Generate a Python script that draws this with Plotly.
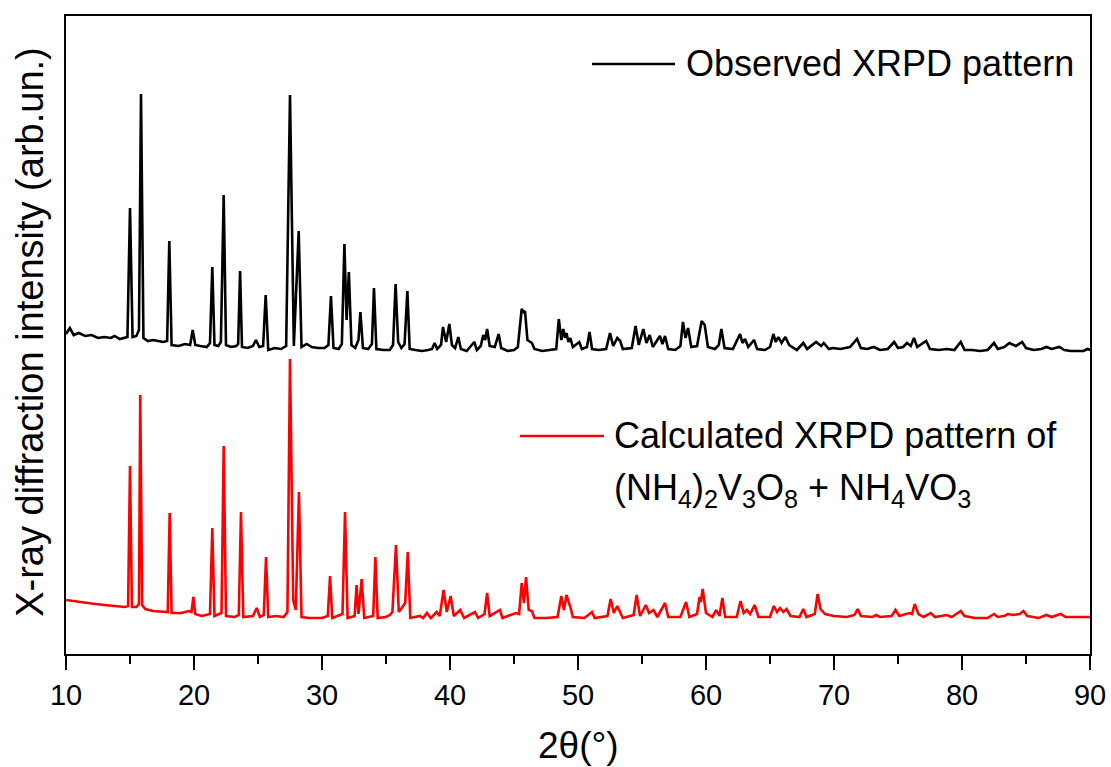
import plotly.graph_objects as go

# ---- Observed XRPD pattern (2θ in degrees, intensity in arb. units) ----
obs_2theta = [10.0, 10.3, 10.6, 11.0, 11.5, 12.0, 12.5, 13.0, 13.5, 13.8, 14.2, 14.6, 14.8,
              15.0, 15.2, 15.5, 15.7, 15.86, 16.05, 16.4, 16.8, 17.2, 17.6, 17.9, 18.07, 18.25,
              18.8, 19.3, 19.7, 19.9, 20.1, 20.5, 21.0, 21.25, 21.43, 21.6, 21.9, 22.1, 22.32,
              22.5, 22.9, 23.3, 23.45, 23.6, 23.75, 24.2, 24.6, 24.84, 25.1, 25.4, 25.6, 25.8,
              26.3, 26.8, 27.2, 27.5, 27.8, 28.18, 28.4, 28.8, 29.2, 29.7, 30.2, 30.5, 30.7,
              30.9, 31.3, 31.55, 31.75, 31.92, 32.1, 32.3, 32.6, 32.85, 33.0, 33.2, 33.6, 33.9,
              34.06, 34.25, 34.8, 35.3, 35.55, 35.75, 35.95, 36.2, 36.45, 36.67, 36.85, 37.3,
              37.8, 38.3, 38.6, 38.8, 39.0, 39.3, 39.45, 39.7, 39.95, 40.15, 40.4, 40.65, 40.85,
              41.3, 41.9, 42.1, 42.4, 42.6, 42.75, 42.9, 43.1, 43.5, 43.8, 44.0, 44.5, 45.0,
              45.3, 45.6, 45.75, 45.86, 46.05, 46.4, 46.6, 47.2, 47.8, 48.3, 48.5, 48.7, 48.85,
              49.0, 49.1, 49.25, 49.4, 49.6, 50.1, 50.3, 50.7, 50.9, 51.1, 51.6, 52.2, 52.5,
              52.75, 53.07, 53.3, 53.5, 54.2, 54.5, 54.75, 55.1, 55.35, 55.6, 55.85, 56.4, 56.6,
              56.8, 57.05, 57.6, 58.0, 58.2, 58.4, 58.6, 58.85, 59.3, 59.66, 59.9, 60.15, 60.7,
              61.0, 61.2, 61.45, 62.1, 62.66, 62.85, 63.05, 63.3, 63.75, 64.0, 64.6, 65.0, 65.26,
              65.45, 65.65, 65.9, 66.2, 66.5, 67.1, 67.6, 67.9, 68.3, 68.6, 69.0, 69.2, 69.6,
              69.9, 70.5, 71.25, 71.8, 72.1, 72.6, 73.1, 73.6, 74.2, 74.7, 75.0, 75.4, 75.7,
              76.0, 76.25, 76.5, 77.2, 77.5, 78.2, 78.8, 79.4, 79.9, 80.2, 80.8, 81.4, 82.0,
              82.5, 82.8, 83.3, 83.7, 84.2, 84.7, 85.0, 85.6, 86.2, 86.6, 87.0, 87.6, 88.0,
              88.5, 89.0, 89.5, 89.8, 90.0]
obs_intensity = [320, 326, 319, 321, 318, 319, 316, 317, 316, 318, 315, 316, 317,
                 446, 317, 318, 324, 560, 316, 313, 314, 313, 312, 313, 413, 309,
                 308, 310, 309, 324, 309, 308, 307, 311, 387, 309, 308, 312, 459,
                 309, 307, 308, 310, 383, 307, 306, 308, 314, 307, 308, 359, 304,
                 306, 305, 308, 559, 308, 423, 307, 310, 307, 306, 306, 309, 358,
                 306, 305, 310, 410, 334, 382, 309, 306, 314, 342, 306, 305, 310,
                 366, 305, 304, 304, 309, 370, 312, 306, 310, 363, 305, 304,
                 303, 304, 305, 311, 305, 309, 327, 312, 330, 309, 306, 317, 305,
                 303, 312, 304, 308, 319, 314, 325, 308, 307, 320, 306, 303, 304,
                 307, 345, 342, 343, 314, 311, 305, 303, 304, 305, 335, 314, 325,
                 316, 321, 312, 316, 307, 312, 305, 307, 322, 305, 304, 305, 321,
                 308, 316, 313, 305, 306, 328, 309, 325, 311, 319, 307, 318, 310,
                 318, 305, 304, 308, 332, 316, 326, 307, 308, 333, 329, 307, 305,
                 309, 325, 306, 305, 320, 311, 315, 307, 314, 305, 304, 307, 320,
                 312, 317, 311, 317, 309, 304, 311, 305, 309, 312, 308, 311, 305,
                 306, 305, 307, 315, 306, 305, 307, 304, 305, 312, 306, 307, 311,
                 308, 316, 307, 313, 305, 304, 305, 304, 312, 304, 304, 303, 304,
                 311, 305, 307, 311, 308, 312, 306, 304, 305, 307, 305, 307, 304,
                 303, 303, 303, 305, 304]

# ---- Calculated XRPD pattern of (NH4)2V3O8 + NH4VO3 ----
calc_2theta = [10.0, 11.0, 12.0, 13.0, 14.0, 14.6, 14.85, 15.0, 15.15, 15.5, 15.7, 15.8, 15.95,
               16.2, 16.8, 17.5, 17.95, 18.1, 18.25, 19.0, 19.6, 19.8, 19.95, 20.1, 20.6, 21.25,
               21.43, 21.6, 22.15, 22.32, 22.5, 23.2, 23.5, 23.67, 23.85, 24.6, 24.9, 25.15,
               25.45, 25.63, 25.8, 26.4, 27.0, 27.3, 27.5, 27.75, 27.95, 28.2, 28.4, 29.0, 30.0,
               30.45, 30.63, 30.8, 31.6, 31.8, 32.0, 32.55, 32.7, 32.85, 33.1, 33.3, 34.0, 34.17,
               34.35, 35.0, 35.3, 35.5, 35.78, 36.0, 36.5, 36.7, 36.9, 37.65, 37.9, 38.2, 38.5,
               38.96, 39.2, 39.5, 39.75, 40.05, 40.3, 40.8, 41.1, 41.95, 42.2, 42.7, 42.9, 43.1,
               43.9, 44.1, 45.15, 45.4, 45.6, 45.78, 45.94, 46.15, 46.4, 46.6, 47.5, 48.4, 48.7,
               48.9, 49.1, 49.4, 49.6, 50.5, 51.1, 51.3, 52.3, 52.55, 52.8, 53.07, 53.3, 53.5,
               54.35, 54.58, 54.85, 55.3, 55.55, 55.9, 56.2, 56.8, 57.05, 58.0, 58.44, 58.7,
               59.3, 59.5, 59.6, 59.74, 60.0, 60.5, 60.8, 61.05, 61.28, 61.5, 62.4, 62.7, 62.95,
               63.2, 63.45, 63.8, 64.1, 65.0, 65.3, 65.55, 65.78, 66.05, 66.3, 66.6, 67.3, 67.6,
               67.85, 68.5, 68.72, 68.95, 69.3, 70.0, 71.0, 71.6, 71.85, 72.1, 73.0, 73.3, 73.6,
               74.5, 74.8, 75.1, 75.9, 76.1, 76.3, 76.6, 77.0, 77.55, 77.9, 78.8, 79.2, 79.9,
               80.2, 81.0, 82.0, 82.5, 82.8, 83.3, 83.6, 84.0, 84.5, 84.8, 85.1, 86.0, 86.6,
               87.0, 87.7, 88.1, 89.0, 90.0]
calc_intensity = [54, 52, 50.5, 49, 47.5, 47, 48, 188, 47, 47, 50, 259, 49,
                  45, 43, 42, 42, 141, 41, 41, 43, 42, 57, 40, 38, 40,
                  126, 38, 41, 208, 38, 37, 39, 142, 37, 38, 46, 37,
                  39, 97, 37, 38, 37, 42, 295, 54, 44, 162, 37, 36, 36,
                  38, 78, 36, 40, 142, 36, 38, 69, 40, 75, 36, 38, 97,
                  36, 37, 39, 42, 109, 42, 51, 102, 36, 38, 36, 41, 36,
                  42, 38, 64, 42, 58, 38, 44, 36, 42, 36, 40, 61, 38,
                  44, 36, 41, 40, 71, 51, 77, 44, 43, 36, 36, 37, 58,
                  44, 59, 47, 37, 36, 42, 36, 38, 55, 41, 48, 42, 36,
                  39, 59, 38, 49, 41, 44, 37, 51, 37, 37, 52, 37,
                  40, 57, 52, 65, 41, 37, 44, 38, 56, 37, 37, 53, 41,
                  44, 40, 49, 37, 37, 48, 42, 46, 42, 45, 38, 37, 45,
                  37, 40, 60, 45, 40, 38, 37, 39, 45, 38, 37, 39, 37,
                  38, 44, 38, 41, 40, 50, 40, 37, 41, 37, 39, 37, 43,
                  38, 36, 36, 40, 37, 38, 40, 39, 40, 43, 38, 36, 39,
                  37, 40, 37, 37, 37]

x_title = "2θ(°)"
y_title = "X-ray diffraction intensity (arb.un.)"
obs_name = "Observed XRPD pattern"
calc_name_line1 = "Calculated XRPD pattern of"
calc_name_line2 = "(NH<sub>4</sub>)<sub>2</sub>V<sub>3</sub>O<sub>8</sub> + NH<sub>4</sub>VO<sub>3</sub>"

FONT = "Liberation Sans, Arial, sans-serif"

fig = go.Figure()
fig.add_trace(go.Scatter(x=obs_2theta, y=obs_intensity, mode="lines", name=obs_name,
                         line=dict(color="black", width=2.6), showlegend=False))
fig.add_trace(go.Scatter(x=calc_2theta, y=calc_intensity, mode="lines", name="Calculated",
                         line=dict(color="#ff0000", width=2.6), showlegend=False))

# legend-like keys and labels
fig.add_shape(type="line", xref="paper", yref="paper", x0=0.5137, x1=0.5947, y0=0.9248, y1=0.9248,
              line=dict(color="black", width=2.4))
fig.add_annotation(xref="paper", yref="paper", x=0.6035, y=0.9248, xanchor="left", yanchor="middle",
                   text=obs_name, showarrow=False, font=dict(family=FONT, size=36, color="black"))
fig.add_shape(type="line", xref="paper", yref="paper", x0=0.4434, x1=0.5254, y0=0.3417, y1=0.3417,
              line=dict(color="#ff0000", width=2.4))
fig.add_annotation(xref="paper", yref="paper", x=0.5332, y=0.3417, xanchor="left", yanchor="middle",
                   text=calc_name_line1, showarrow=False, font=dict(family=FONT, size=36, color="black"))
fig.add_annotation(xref="paper", yref="paper", x=0.5332, y=0.257, xanchor="left", yanchor="middle",
                   text=calc_name_line2, showarrow=False, font=dict(family=FONT, size=36, color="black"))

# axis titles placed as annotations (pixel offsets from the plot edges)
fig.add_annotation(xref="paper", yref="paper", x=0.5, y=0, yshift=-91, xanchor="center",
                   yanchor="middle", text=x_title, showarrow=False,
                   font=dict(family=FONT, size=37, color="black"))
fig.add_annotation(xref="paper", yref="paper", x=0, y=0.505, xshift=-36, xanchor="center",
                   yanchor="middle", text=y_title, textangle=-90, showarrow=False,
                   font=dict(family=FONT, size=38, color="black"))

fig.update_layout(
    width=1111, height=767,
    margin=dict(l=66, r=21, t=16, b=113),
    paper_bgcolor="white", plot_bgcolor="white",
    font=dict(family=FONT, color="black"),
    xaxis=dict(range=[10, 90], tickmode="linear", tick0=10, dtick=10, ticks="outside",
               ticklen=14, tickwidth=2.4, tickcolor="black", showline=True, linecolor="black",
               linewidth=2.4, mirror=True, showgrid=False, zeroline=False, automargin=False,
               tickfont=dict(size=29, family=FONT, color="black"), ticklabelstandoff=0,
               minor=dict(tickmode="linear", tick0=5, dtick=5, ticks="outside", ticklen=8,
                          tickwidth=2.4, tickcolor="black", showgrid=False)),
    yaxis=dict(range=[0, 638], showticklabels=False, ticks="", showline=True, linecolor="black",
               linewidth=2.4, mirror=True, showgrid=False, zeroline=False, automargin=False),
)

fig.write_html("out.html", config={"displayModeBar": False},
               post_script="document.body.style.margin='0';document.body.style.overflow='hidden';")
